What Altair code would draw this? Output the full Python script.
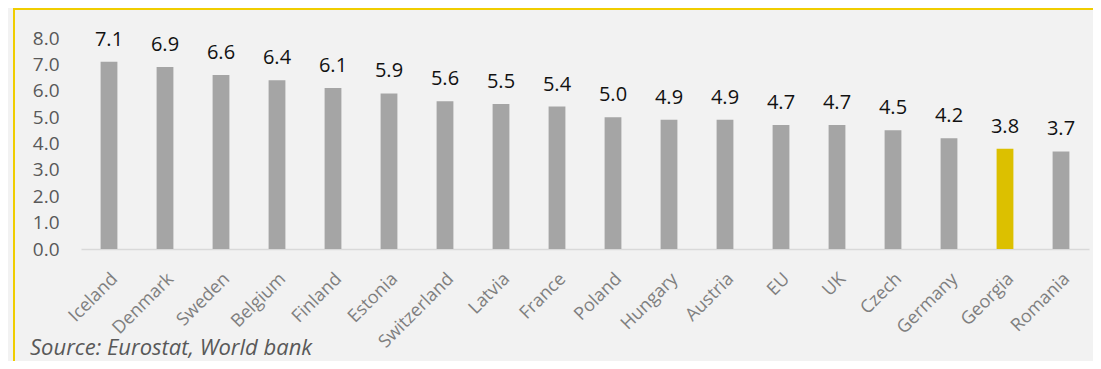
import altair as alt
import pandas as pd

countries = ["Iceland", "Denmark", "Sweden", "Belgium", "Finland", "Estonia",
             "Switzerland", "Latvia", "France", "Poland", "Hungary", "Austria",
             "EU", "UK", "Czech", "Germany", "Georgia", "Romania"]
values = [7.1, 6.9, 6.6, 6.4, 6.1, 5.9, 5.6, 5.5, 5.4, 5.0, 4.9, 4.9,
          4.7, 4.7, 4.5, 4.2, 3.8, 3.7]
highlight = ["Georgia"]
y_ticks = [0, 1, 2, 3, 4, 5, 6, 7, 8]
source_text = "Source: Eurostat, World bank"

df = pd.DataFrame({"country": countries, "value": values})
df["hl"] = df["country"].isin(highlight).map({True: "yes", False: "no"})

FONT = "Open Sans"
W, H = 1008, 211

x = alt.X("country:N", sort=countries, title=None,
          scale=alt.Scale(paddingInner=0.7, paddingOuter=0.35),
          axis=alt.Axis(labelAngle=-45, labelAlign="right", labelBaseline="middle",
                        labelFont=FONT, labelFontSize=18, labelColor="#7f7f7f",
                        labelPadding=27, labelOffset=6, ticks=False,
                        domainColor="#d9d9d9", domainWidth=1.5,
                        labelOverlap=False))
y = alt.Y("value:Q", title=None,
          scale=alt.Scale(domain=[0, 8], nice=False),
          axis=alt.Axis(values=y_ticks, tickCount=9, format=".1f", grid=False,
                        domain=False, ticks=False, labelFont=FONT,
                        labelFontSize=19, labelColor="#595959",
                        labelPadding=22, labelOverlap=False))

base = alt.Chart(df).encode(x=x, y=y)

bars = base.mark_bar().encode(
    color=alt.Color("hl:N", scale=alt.Scale(domain=["no", "yes"],
                                            range=["#a5a5a5", "#dcc000"]),
                    legend=None),
)

labels = base.mark_text(dy=-16, baseline="alphabetic", font=FONT,
                        fontSize=20, color="#111111").encode(
    text=alt.Text("value:Q", format=".1f"),
)

border = alt.Chart(pd.DataFrame({"a": [0]})).mark_rect(
    fill=None, stroke="#f0cd00", strokeWidth=2, clip=False).encode(
    x=alt.value(-67), x2=alt.value(1040),
    y=alt.value(-29), y2=alt.value(340),
)

source = alt.Chart(pd.DataFrame({"t": [source_text]})).mark_text(
    align="left", baseline="alphabetic", font=FONT, fontSize=22,
    fontStyle="italic", color="#595959").encode(
    x=alt.value(-51), y=alt.value(317), text="t:N")

chart = alt.layer(border, bars, labels, source).properties(
    width=W, height=H,
    autosize=alt.AutoSizeParams(type="none"),
    padding={"left": 73, "top": 30, "right": 4, "bottom": 112},
    background="#f2f2f2",
).configure_view(stroke=None)

chart.save("out.html", embed_options={"renderer": "svg", "actions": False})
